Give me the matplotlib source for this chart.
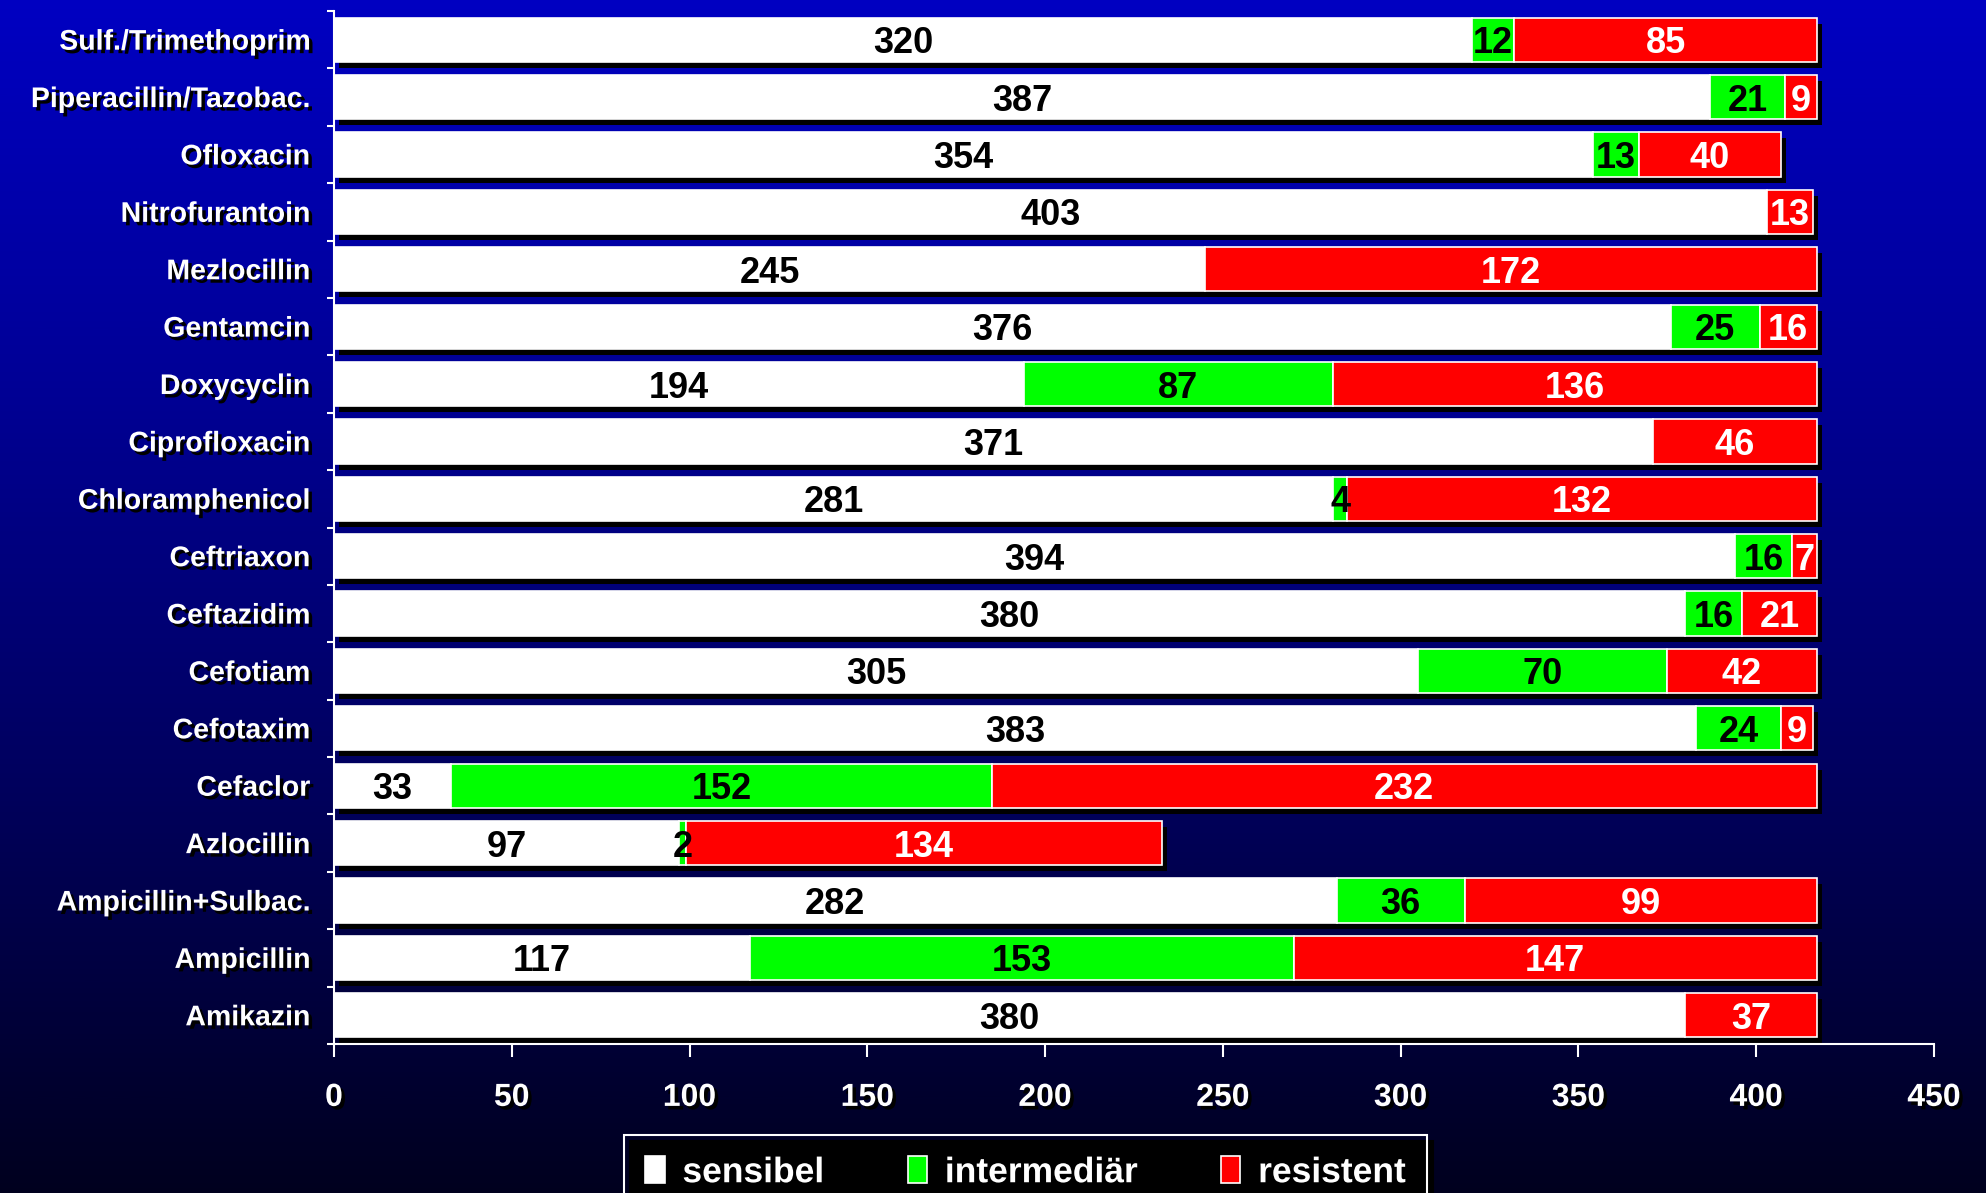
import numpy as np
import matplotlib
matplotlib.use("Agg")
import matplotlib.pyplot as plt
import matplotlib.patheffects as pe
from matplotlib import transforms
from matplotlib.colors import LinearSegmentedColormap
from matplotlib.font_manager import fontManager

# ---------------- data ----------------
categories = ["Amikazin", "Ampicillin", "Ampicillin+Sulbac.", "Azlocillin", "Cefaclor",
              "Cefotaxim", "Cefotiam", "Ceftazidim", "Ceftriaxon", "Chloramphenicol",
              "Ciprofloxacin", "Doxycyclin", "Gentamcin", "Mezlocillin", "Nitrofurantoin",
              "Ofloxacin", "Piperacillin/Tazobac.", "Sulf./Trimethoprim"]
sensibel     = [380, 117, 282, 97, 33, 383, 305, 380, 394, 281, 371, 194, 376, 245, 403, 354, 387, 320]
intermediaer = [0, 153, 36, 2, 152, 24, 70, 16, 16, 4, 0, 87, 25, 0, 0, 13, 21, 12]
resistent    = [37, 147, 99, 134, 232, 9, 42, 21, 7, 132, 46, 136, 16, 172, 13, 40, 9, 85]
series_names = ["sensibel", "intermediär", "resistent"]
x_ticks = [0, 50, 100, 150, 200, 250, 300, 350, 400, 450]

# ---------------- style ----------------
names = {f.name for f in fontManager.ttflist}
fam = ["Liberation Sans Narrow", "DejaVu Sans"] if "Liberation Sans Narrow" in names else ["Liberation Sans", "DejaVu Sans"]
plt.rcParams["font.family"] = fam
plt.rcParams["font.weight"] = "bold"

colors = ["#FFFFFF", "#00FF00", "#FF0000"]
text_colors = ["black", "black", "white"]

W, H = 1986, 1193
fig = plt.figure(figsize=(W / 100, H / 100), dpi=100)

# gradient background
bg = fig.add_axes([0, 0, 1, 1], zorder=-10)
cmap = LinearSegmentedColormap.from_list("bg", [(0, 0, 0.76), (0, 0, 0.58), (0, 0, 0.36), (0, 0, 0.12)])
grad = np.linspace(0, 1, 512).reshape(-1, 1)
bg.imshow(grad, aspect="auto", cmap=cmap, extent=[0, 1, 0, 1])
bg.set_axis_off()

left, right = 334 / W, 1934 / W
bottom, top = 1 - 1044 / H, 1 - 11 / H
ax = fig.add_axes([left, bottom, right - left, top - bottom])
ax.set_facecolor("none")

y = np.arange(len(categories))
bar_h = 0.77
sens = np.array(sensibel)
inter = np.array(intermediaer)
res = np.array(resistent)
totals = sens + inter + res

shadow_tr = transforms.offset_copy(ax.transData, fig=fig, x=5, y=-6, units="dots")
ax.barh(y, totals, height=bar_h, color="black", transform=shadow_tr, zorder=1)

lefts = np.zeros(len(categories))
handles = []
for vals, col, tc, name in zip([sens, inter, res], colors, text_colors, series_names):
    bars = ax.barh(y, vals, left=lefts, height=bar_h, color=col, edgecolor="white",
                   linewidth=1.2, zorder=2, label=name)
    handles.append(bars)
    for yi, v, l in zip(y, vals, lefts):
        if v > 0:
            ax.text(l + v / 2, yi, str(v), ha="center", va="center_baseline", color=tc,
                    fontsize=26, fontweight="bold", zorder=4)
    lefts = lefts + vals

ax.set_xlim(0, 450)
ax.set_ylim(-0.5, len(categories) - 0.5)

shadow_fx = [pe.SimplePatchShadow(offset=(2.5, -2.5), shadow_rgbFace="black", alpha=1.0), pe.Normal()]

ax.set_xticks(x_ticks)
ax.set_xticklabels([str(t) for t in x_ticks])
ax.set_yticks(y)
ax.set_yticklabels(categories)
ax.tick_params(axis="y", length=0, pad=17, labelsize=20.5, labelcolor="white")
ax.tick_params(axis="x", length=9, width=1.5, color="white", pad=19, labelsize=23, labelcolor="white")
ax.set_yticks(np.arange(-0.5, len(categories), 1), minor=True)
ax.tick_params(axis="y", which="minor", length=5, width=1.5, color="white")
for lab in ax.get_xticklabels() + ax.get_yticklabels():
    lab.set_fontweight("bold")
    lab.set_path_effects(shadow_fx)

for s in ["top", "right"]:
    ax.spines[s].set_visible(False)
for s in ["left", "bottom"]:
    ax.spines[s].set_color("white")
    ax.spines[s].set_linewidth(1.5)
    ax.spines[s].set_zorder(5)
    ax.spines[s].set_path_effects([pe.SimplePatchShadow(offset=(3, -3), shadow_rgbFace="black", alpha=1.0), pe.Normal()])

leg = ax.legend(handles=handles, labels=series_names, ncol=3, loc="upper left",
                bbox_to_anchor=(624 / W, 1 - 1135 / H), bbox_transform=fig.transFigure,
                frameon=True, fancybox=False, edgecolor="white", facecolor="none",
                framealpha=1, fontsize=25.5, handlelength=0.55, handleheight=0.8,
                handletextpad=0.5, columnspacing=2.35, borderpad=0.6,
                borderaxespad=0, shadow={"color": "black", "alpha": 1.0, "ox": 4, "oy": -4})
leg.get_frame().set_linewidth(1.5)
for t in leg.get_texts():
    t.set_color("white")
    t.set_fontweight("bold")
    t.set_path_effects(shadow_fx)

fig.savefig("out.png", dpi=100)
